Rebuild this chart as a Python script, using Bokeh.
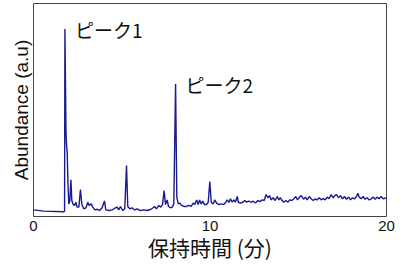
from bokeh.plotting import figure
from bokeh.models import Range1d, FixedTicker
from bokeh.core.properties import value
from bokeh.embed import file_html
from bokeh.resources import INLINE

# retention time (min)
times = [0.0, 0.59, 1.72, 1.76, 1.78, 1.84, 1.87, 1.91, 1.95, 2.00, 2.06, 2.12, 2.17, 2.25, 2.32, 2.40,
         2.47, 2.57, 2.66, 2.74, 2.85, 2.97, 3.08, 3.15, 3.27, 3.36, 3.48, 3.61, 3.74, 3.89, 4.02, 4.10,
         4.27, 4.46, 4.65, 4.74, 4.83, 4.93, 5.06, 5.17, 5.27, 5.34, 5.46, 5.59, 5.72, 5.87, 6.06, 6.25,
         6.44, 6.63, 6.78, 6.86, 6.97, 7.10, 7.21, 7.31, 7.40, 7.48, 7.57, 7.65, 7.76, 7.86, 7.95, 8.05,
         8.12, 8.20, 8.29, 8.39, 8.52, 8.67, 8.80, 8.93, 9.05, 9.14, 9.24, 9.33, 9.41, 9.50, 9.59, 9.69,
         9.80, 9.90, 9.99, 10.07, 10.18, 10.27, 10.37, 10.50, 10.63, 10.78, 10.90, 10.97, 11.07, 11.16,
         11.26, 11.35, 11.44, 11.54, 11.61, 11.73, 11.86, 11.97, 12.07, 12.20, 12.33, 12.45, 12.58, 12.71,
         12.82, 12.96, 13.07, 13.18, 13.28, 13.37, 13.47, 13.58, 13.69, 13.81, 13.90, 13.99, 14.09, 14.18,
         14.30, 14.41, 14.52, 14.64, 14.75, 14.86, 14.96, 15.07, 15.18, 15.30, 15.41, 15.51, 15.62, 15.73,
         15.85, 15.96, 16.07, 16.19, 16.30, 16.41, 16.53, 16.64, 16.75, 16.86, 16.98, 17.07, 17.17, 17.28,
         17.39, 17.51, 17.62, 17.73, 17.85, 17.96, 18.07, 18.19, 18.30, 18.38, 18.45, 18.56, 18.68, 18.79,
         18.90, 19.02, 19.13, 19.24, 19.36, 19.47, 19.58, 19.70, 19.81, 20.0]

# abundance (a.u.)
abundance = [3.1, 2.5, 2.2, 2.5, 88.0, 40.0, 34.1, 30.0, 16.0, 5.9, 7.5, 17.2, 7.5, 5.6, 5.2, 6.7,
             4.4, 4.4, 12.7, 5.6, 3.6, 4.1, 6.7, 5.2, 5.9, 4.4, 3.1, 3.4, 2.8, 4.1, 7.3, 3.1,
             2.8, 3.1, 4.1, 4.4, 3.1, 4.7, 2.8, 3.6, 23.9, 4.7, 3.6, 4.1, 3.1, 3.6, 2.8, 3.1,
             2.8, 3.3, 4.1, 4.7, 3.6, 5.2, 4.4, 5.6, 12.2, 5.6, 7.8, 4.7, 4.1, 4.4, 5.9, 62.2,
             9.1, 5.9, 6.3, 5.2, 4.7, 4.7, 5.2, 4.7, 6.3, 5.6, 7.8, 5.6, 7.8, 5.9, 7.2, 5.6,
             5.6, 6.7, 16.4, 6.7, 5.9, 7.8, 6.3, 5.6, 5.9, 5.6, 6.7, 7.8, 6.6, 8.3,
             6.7, 7.8, 6.7, 9.4, 6.7, 6.3, 6.7, 7.5, 6.7, 7.2, 6.7, 7.2, 6.3, 7.5,
             7.0, 7.8, 7.5, 10.3, 8.8, 9.8, 7.8, 8.8, 7.5, 9.4, 7.8, 8.8, 7.5, 6.7,
             7.5, 6.7, 7.8, 7.5, 8.3, 9.4, 7.8, 9.1, 9.8, 8.1, 9.1, 7.8, 9.4, 8.3,
             7.5, 8.3, 7.8, 8.8, 7.8, 8.4, 7.8, 9.1, 8.3, 10.3, 8.8, 9.8, 10.3, 8.8,
             9.8, 8.3, 9.4, 8.1, 9.1, 7.8, 8.8, 8.3, 9.4, 10.9, 9.1, 8.3, 9.4, 8.1,
             8.8, 7.8, 8.3, 9.1, 8.1, 9.1, 8.3, 9.4, 8.3, 8.8]

peak_labels = ["ピーク1", "ピーク2"]
peak_times = [1.78, 8.05]
peak_heights = [88.0, 62.2]
x_ticks = [0, 10, 20]

p = figure(width=400, height=266, output_backend="svg", toolbar_location=None,
           x_range=Range1d(0, 20), y_range=Range1d(0, 100),
           min_border_left=33, min_border_right=14, min_border_top=3, min_border_bottom=50)

p.line(times, abundance, line_color="#1a1a90", line_width=1.4)

p.text(x=peak_times, y=peak_heights, text=peak_labels, x_offset=10, y_offset=0,
       text_font=value("Noto Sans CJK JP"), text_font_size="19px",
       text_baseline="middle", text_align="left", text_color="#111111")

p.xgrid.visible = False
p.ygrid.visible = False
p.outline_line_color = "#444444"
p.outline_line_width = 1
p.background_fill_color = "white"
p.border_fill_color = "white"

xa = p.xaxis[0]
xa.ticker = FixedTicker(ticks=x_ticks)
xa.axis_line_color = None
xa.major_tick_line_color = None
xa.minor_tick_line_color = None
xa.major_tick_out = 0
xa.major_label_standoff = 4
xa.major_label_text_font = "Liberation Sans"
xa.major_label_text_font_size = "15px"
xa.major_label_text_color = "#111111"
xa.axis_label = "保持時間 (分)"
xa.axis_label_text_font = "Noto Sans CJK JP"
xa.axis_label_text_font_size = "21px"
xa.axis_label_text_font_style = "normal"
xa.axis_label_text_color = "#111111"
xa.axis_label_standoff = -2

ya = p.yaxis[0]
ya.ticker = FixedTicker(ticks=[])
ya.axis_line_color = None
ya.major_tick_line_color = None
ya.minor_tick_line_color = None
ya.major_tick_out = 0
ya.major_label_text_font_size = "0px"
ya.axis_label = "Abundance (a.u)"
ya.axis_label_text_font = "Liberation Sans"
ya.axis_label_text_font_size = "19px"
ya.axis_label_text_font_style = "normal"
ya.axis_label_text_color = "#111111"
ya.axis_label_standoff = 2

open("out.html", "w").write(file_html(p, INLINE))
